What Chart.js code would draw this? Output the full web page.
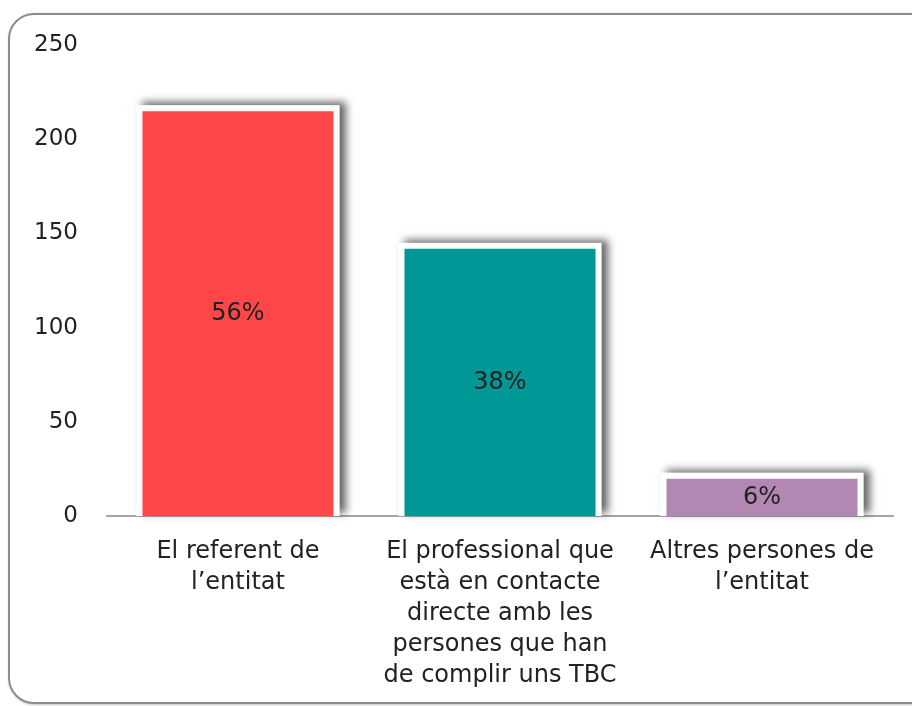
<!DOCTYPE html>
<html lang="ca">
<head>
    <meta charset="UTF-8">
    <title>Qui fa el seguiment</title>
    <script src="https://cdn.jsdelivr.net/npm/chart.js@4.4.0/dist/chart.umd.min.js"></script>
    <style>
        html, body { margin: 0; padding: 0; background: #fff; overflow: hidden; }
        #frame {
            position: absolute; left: 8px; top: 13px; width: 930px; height: 687px;
            border: 2px solid #8c8c8c; border-radius: 26px;
            box-shadow: 1px 1px 3px rgba(0, 0, 0, 0.25);
        }
        #wrap { position: absolute; left: 0; top: 0; width: 912px; height: 706px; }
    </style>
</head>
<body>
<div id="frame"></div>
<div id="wrap">
    <canvas id="barChart" width="912" height="706"></canvas>
</div>
<script>
    const categories = [
        ['El referent de', 'l’entitat'],
        ['El professional que', 'està en contacte', 'directe amb les', 'persones que han', 'de complir uns TBC'],
        ['Altres persones de', 'l’entitat']
    ];
    const counts = [218, 145, 23];
    const percentLabels = ['56%', '38%', '6%'];
    const barColors = ['#ff474a', '#009896', '#b287b4'];
    const yTicks = [0, 50, 100, 150, 200, 250];

    const fontFamily = '"DejaVu Sans", sans-serif';

    // white frame + soft shadow behind each bar
    const barShadow = {
        id: 'barShadow',
        beforeDatasetsDraw(chart) {
            const ctx = chart.ctx;
            chart.getDatasetMeta(0).data.forEach(bar => {
                const p = bar.getProps(['x', 'y', 'width', 'base'], true);
                ctx.save();
                ctx.shadowColor = 'rgba(0,0,0,0.6)';
                ctx.shadowBlur = 8;
                ctx.shadowOffsetX = 6;
                ctx.shadowOffsetY = -3;
                ctx.fillStyle = '#fff';
                ctx.fillRect(p.x - p.width / 2, p.y, p.width, p.base - p.y);
                ctx.restore();
            });
        }
    };

    // percent text in the middle of each bar
    const barPercent = {
        id: 'barPercent',
        afterDatasetsDraw(chart) {
            const ctx = chart.ctx;
            chart.getDatasetMeta(0).data.forEach((bar, i) => {
                const p = bar.getProps(['x', 'y', 'base'], true);
                ctx.save();
                ctx.font = '24px ' + fontFamily;
                ctx.fillStyle = '#222';
                ctx.textAlign = 'center';
                ctx.textBaseline = 'middle';
                ctx.fillText(percentLabels[i], p.x, (p.y + p.base) / 2 + 3);
                ctx.restore();
            });
        }
    };

    new Chart(document.getElementById('barChart'), {
        type: 'bar',
        data: {
            labels: categories,
            datasets: [{
                data: counts,
                backgroundColor: barColors,
                borderColor: '#fff',
                borderWidth: 6,
                borderSkipped: 'bottom',
                barPercentage: 0.775,
                categoryPercentage: 1
            }]
        },
        options: {
            responsive: false,
            animation: false,
            layout: { padding: { left: 17, right: 19, top: 45, bottom: 0 } },
            plugins: {
                legend: { display: false },
                tooltip: { enabled: false }
            },
            scales: {
                x: {
                    grid: { display: false, drawTicks: false },
                    border: { display: true, color: '#a6a6a6', width: 2 },
                    afterFit: s => { s.height = 190; },
                    ticks: {
                        padding: 20,
                        maxRotation: 0,
                        color: '#222',
                        font: { family: fontFamily, size: 24, lineHeight: 1.29 }
                    }
                },
                y: {
                    min: 0,
                    max: 250,
                    grid: { display: false, drawTicks: false },
                    border: { display: false },
                    afterFit: s => { s.width = 90; },
                    afterBuildTicks: s => { s.ticks = yTicks.map(v => ({ value: v })); },
                    ticks: {
                        padding: 29,
                        color: '#222',
                        font: { family: fontFamily, size: 23 }
                    }
                }
            }
        },
        plugins: [barShadow, barPercent]
    });
</script>
</body>
</html>
